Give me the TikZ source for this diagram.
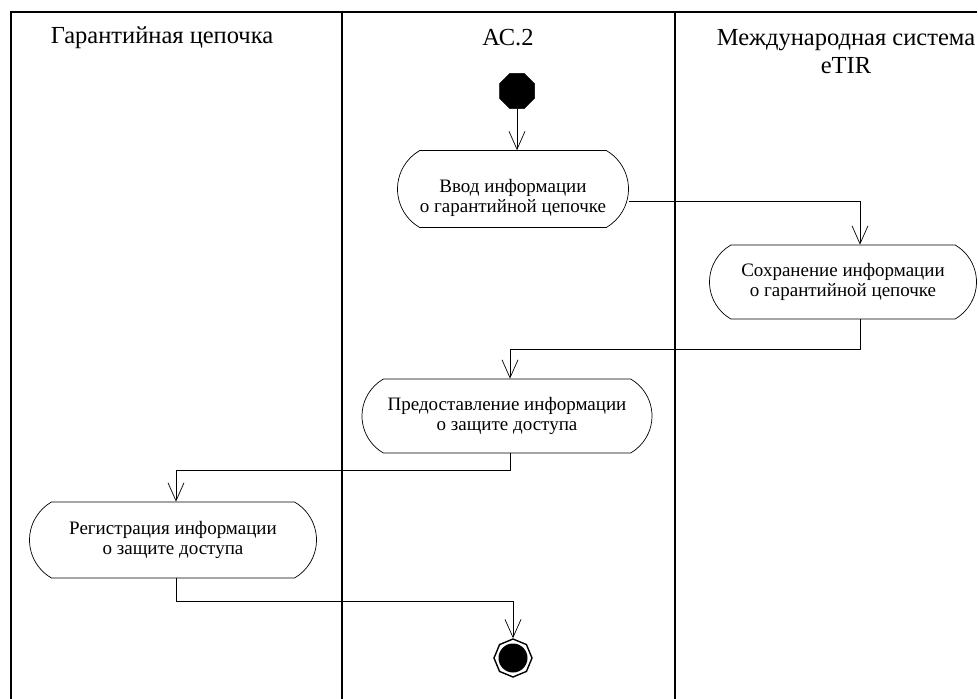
\documentclass[tikz,border=0pt]{standalone}
\usepackage{fontspec}
\setmainfont{Liberation Serif}
\usetikzlibrary{shapes.misc,shapes.geometric,arrows.meta}
\begin{document}
\begin{tikzpicture}[x=1pt,y=-1pt,
  lane/.style={line width=2.2pt},
  hdr/.style={font=\fontsize{24.5}{28}\selectfont, align=center, inner sep=0pt},
  act/.style={rounded rectangle, rounded rectangle arc length=120, draw, line width=0.7pt,
    fill=white, align=center, font=\fontsize{19}{20}\selectfont, inner sep=0pt},
  flow/.style={-{Straight Barb[length=18pt,width=16pt]}, line width=0.7pt},
  startnode/.style={regular polygon, regular polygon sides=8, fill=black, draw=black,
    minimum size=38pt, inner sep=0pt},
  endnode/.style={regular polygon, regular polygon sides=8, shape border rotate=22.5,
    draw=black, line width=1.4pt, fill=white, minimum size=38pt, inner sep=0pt}
]
\useasboundingbox (0,0) rectangle (978,699);
% swimlane frame
\draw[lane] (11,710) -- (11,12) -- (977,12);
\draw[lane] (342,12) -- (342,710);
\draw[lane] (675,12) -- (675,710);
% headers
\node[hdr] (h1) at (162,38) {Гарантийная цепочка};
\node[hdr] (h2) at (508,38) {АС.2};
\node[hdr] (h3) at (846,52) {Международная система\\eTIR};
% nodes
\node[startnode] (start) at (517,91) {};
\node[act, minimum width=231pt, minimum height=77pt] (n1) at (513,189) {\rule{0pt}{32pt}Ввод информации\\о гарантийной цепочке};
\node[act, minimum width=267pt, minimum height=74pt] (n2) at (843,282) {Сохранение информации\\о гарантийной цепочке};
\node[act, minimum width=290pt, minimum height=74pt] (n3) at (507,416) {Предоставление информации\\о защите доступа};
\node[act, minimum width=287pt, minimum height=76pt] (n4) at (173,540) {Регистрация информации\\о защите доступа};
\node[endnode] (end) at (513,658) {};
\fill (end.center) circle (14.5pt);
% connectors
\draw[flow] (start) -- (start |- n1.north);
\draw[flow] ([yshift=-12pt]n1.east) -| ([xshift=17pt]n2.north);
\draw[flow] ([xshift=17pt]n2.south) -- ++(0,30) -| ([xshift=3pt]n3.north);
\draw[flow] ([xshift=3pt]n3.south) -- ++(0,17) -| ([xshift=3pt]n4.north);
\draw[flow] ([xshift=3pt]n4.south) -- ++(0,23) -| (end.north);
\end{tikzpicture}
\end{document}
